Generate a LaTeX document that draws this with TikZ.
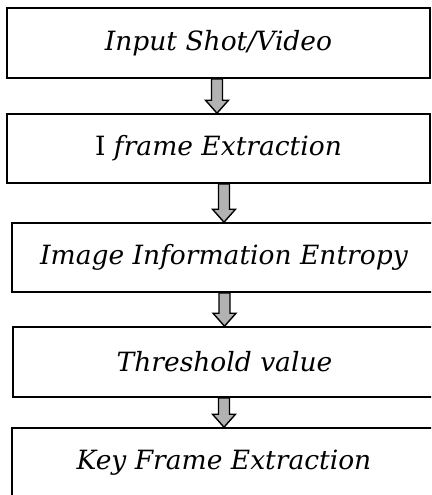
\documentclass[tikz,border=0pt]{standalone}
\usepackage{fontspec}
\setmainfont{DejaVu Serif}
\usetikzlibrary{calc}
\tikzset{
  box/.style={draw=black, line width=1.6pt, fill=white, rectangle, inner sep=0pt,
    font=\fontsize{26.5}{30}\selectfont\itshape},
  hollowarrow/.style={draw=black, line width=1.4pt, fill=gray!60, line join=miter,
    to path={let \p1=(\tikztostart), \p2=(\tikztotarget) in
      (\x1-5.5pt,\y1) -- (\x1+5.5pt,\y1) -- (\x1+5.5pt,\y2+13pt) -- (\x1+11.5pt,\y2+13pt)
      -- (\x1,\y2) -- (\x1-11.5pt,\y2+13pt) -- (\x1-5.5pt,\y2+13pt) -- cycle}}
}
\begin{document}
\begin{tikzpicture}[x=1pt,y=-1pt]
\useasboundingbox (0,0) rectangle (431,495);
\begin{scope}
\clip (0,0) rectangle (431,495);
\node[box, minimum width=423pt, minimum height=70pt] (b1) at (218.5,43) {Input Shot/Video};
\node[box, minimum width=423pt, minimum height=69pt] (b2) at (218.5,148.5) {{\upshape I} frame Extraction};
\node[box, minimum width=424pt, minimum height=69pt] (b3) at (224,257.5) {Image Information Entropy};
\node[box, minimum width=423pt, minimum height=70pt] (b4) at (224.5,362) {Threshold value};
\node[box, minimum width=424pt, minimum height=70pt] (b5) at (224,463) {Key Frame Extraction};
\coordinate (a1) at ($(b1.south)+(-1.5pt,0)$);
\coordinate (t1) at ($(b2.north)+(-1.5pt,0)$);
\draw[hollowarrow] (a1) to (t1);
\draw[hollowarrow] (b2.south -| b3.north) to (b3.north);
\draw[hollowarrow] (b3.south -| b4.north) to (b4.north);
\draw[hollowarrow] (b4.south -| b5.north) to (b5.north);
\end{scope}
\end{tikzpicture}
\end{document}
